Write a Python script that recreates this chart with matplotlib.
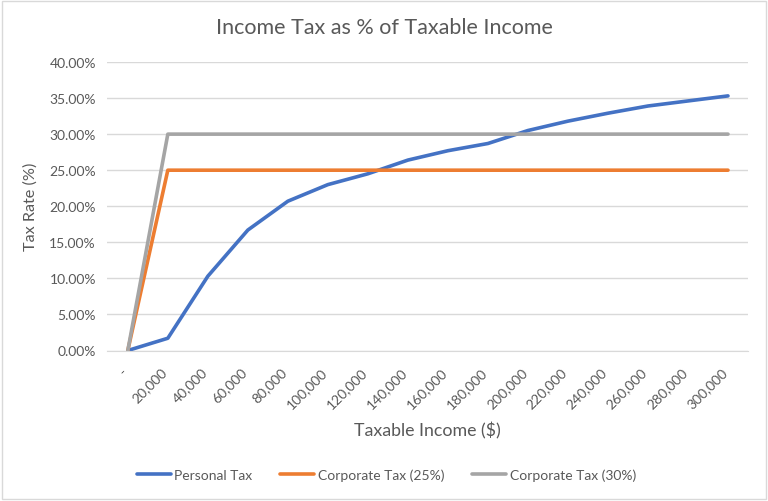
import matplotlib.pyplot as plt
import matplotlib.transforms as mtransforms
from matplotlib.patches import Rectangle
from matplotlib.ticker import FuncFormatter

plt.rcParams['font.family'] = ['Lato', 'DejaVu Sans']

income_labels = ["-", "20,000", "40,000", "60,000", "80,000", "100,000", "120,000",
                 "140,000", "160,000", "180,000", "200,000", "220,000", "240,000",
                 "260,000", "280,000", "300,000"]
personal_tax = [0.0, 1.7, 10.3, 16.7, 20.7, 23.0, 24.5, 26.4, 27.7, 28.7,
                30.5, 31.8, 32.9, 33.9, 34.6, 35.3]
corporate_25 = [0.0] + [25.0] * 15
corporate_30 = [0.0] + [30.0] * 15

text_col = "#595959"

fig = plt.figure(figsize=(7.68, 5.02), dpi=100)
ax = fig.add_axes([107 / 768, 1 - 351.5 / 502, (748 - 107) / 768, (351.5 - 63) / 502])

x = range(len(income_labels))
ax.plot(x, personal_tax, color="#4472C4", lw=2.6, label="Personal Tax", solid_capstyle="round")
ax.plot(x, corporate_25, color="#ED7D31", lw=2.6, label="Corporate Tax (25%)", solid_capstyle="round")
ax.plot(x, corporate_30, color="#A5A5A5", lw=2.6, label="Corporate Tax (30%)", solid_capstyle="round")

ax.set_xlim(-0.52, 15.5)
ax.set_ylim(0, 40)
ax.set_yticks(range(0, 41, 5))
ax.yaxis.set_major_formatter(FuncFormatter(lambda v, p: "%.2f%%" % v))
ax.grid(axis="y", color="#D9D9D9", lw=1)
ax.set_axisbelow(True)
for s in ["top", "right", "left"]:
    ax.spines[s].set_visible(False)
ax.spines["bottom"].set_color("#D9D9D9")
ax.tick_params(length=0, colors=text_col, labelsize=10)
ax.tick_params(axis="y", pad=8)

ax.set_xticks(list(x))
ax.set_xticklabels(income_labels, rotation=45, ha="right", va="center", rotation_mode="anchor")
offset = mtransforms.ScaledTranslation(-3 / 100, -14 / 100, fig.dpi_scale_trans)
for lbl in ax.get_xticklabels():
    lbl.set_transform(lbl.get_transform() + offset)

ax.set_xlabel("Taxable Income ($)", color=text_col, fontsize=12.8, labelpad=8)
ax.set_ylabel("Tax Rate (%)", color=text_col, fontsize=11.7, labelpad=8)
fig.suptitle("Income Tax as % of Taxable Income", color=text_col, fontsize=15.5, y=0.965)

fig.legend(loc="center", bbox_to_anchor=(0.503, 1 - 476 / 502), ncol=3, frameon=False,
           fontsize=10, labelcolor=text_col, handlelength=2.45, handletextpad=0.25,
           columnspacing=2.0)

fig.patches.append(Rectangle((0.003, 0.003), 0.994, 0.994, transform=fig.transFigure,
                             fill=False, edgecolor="#D9D9D9", lw=1))

fig.savefig("out.png", dpi=100)
